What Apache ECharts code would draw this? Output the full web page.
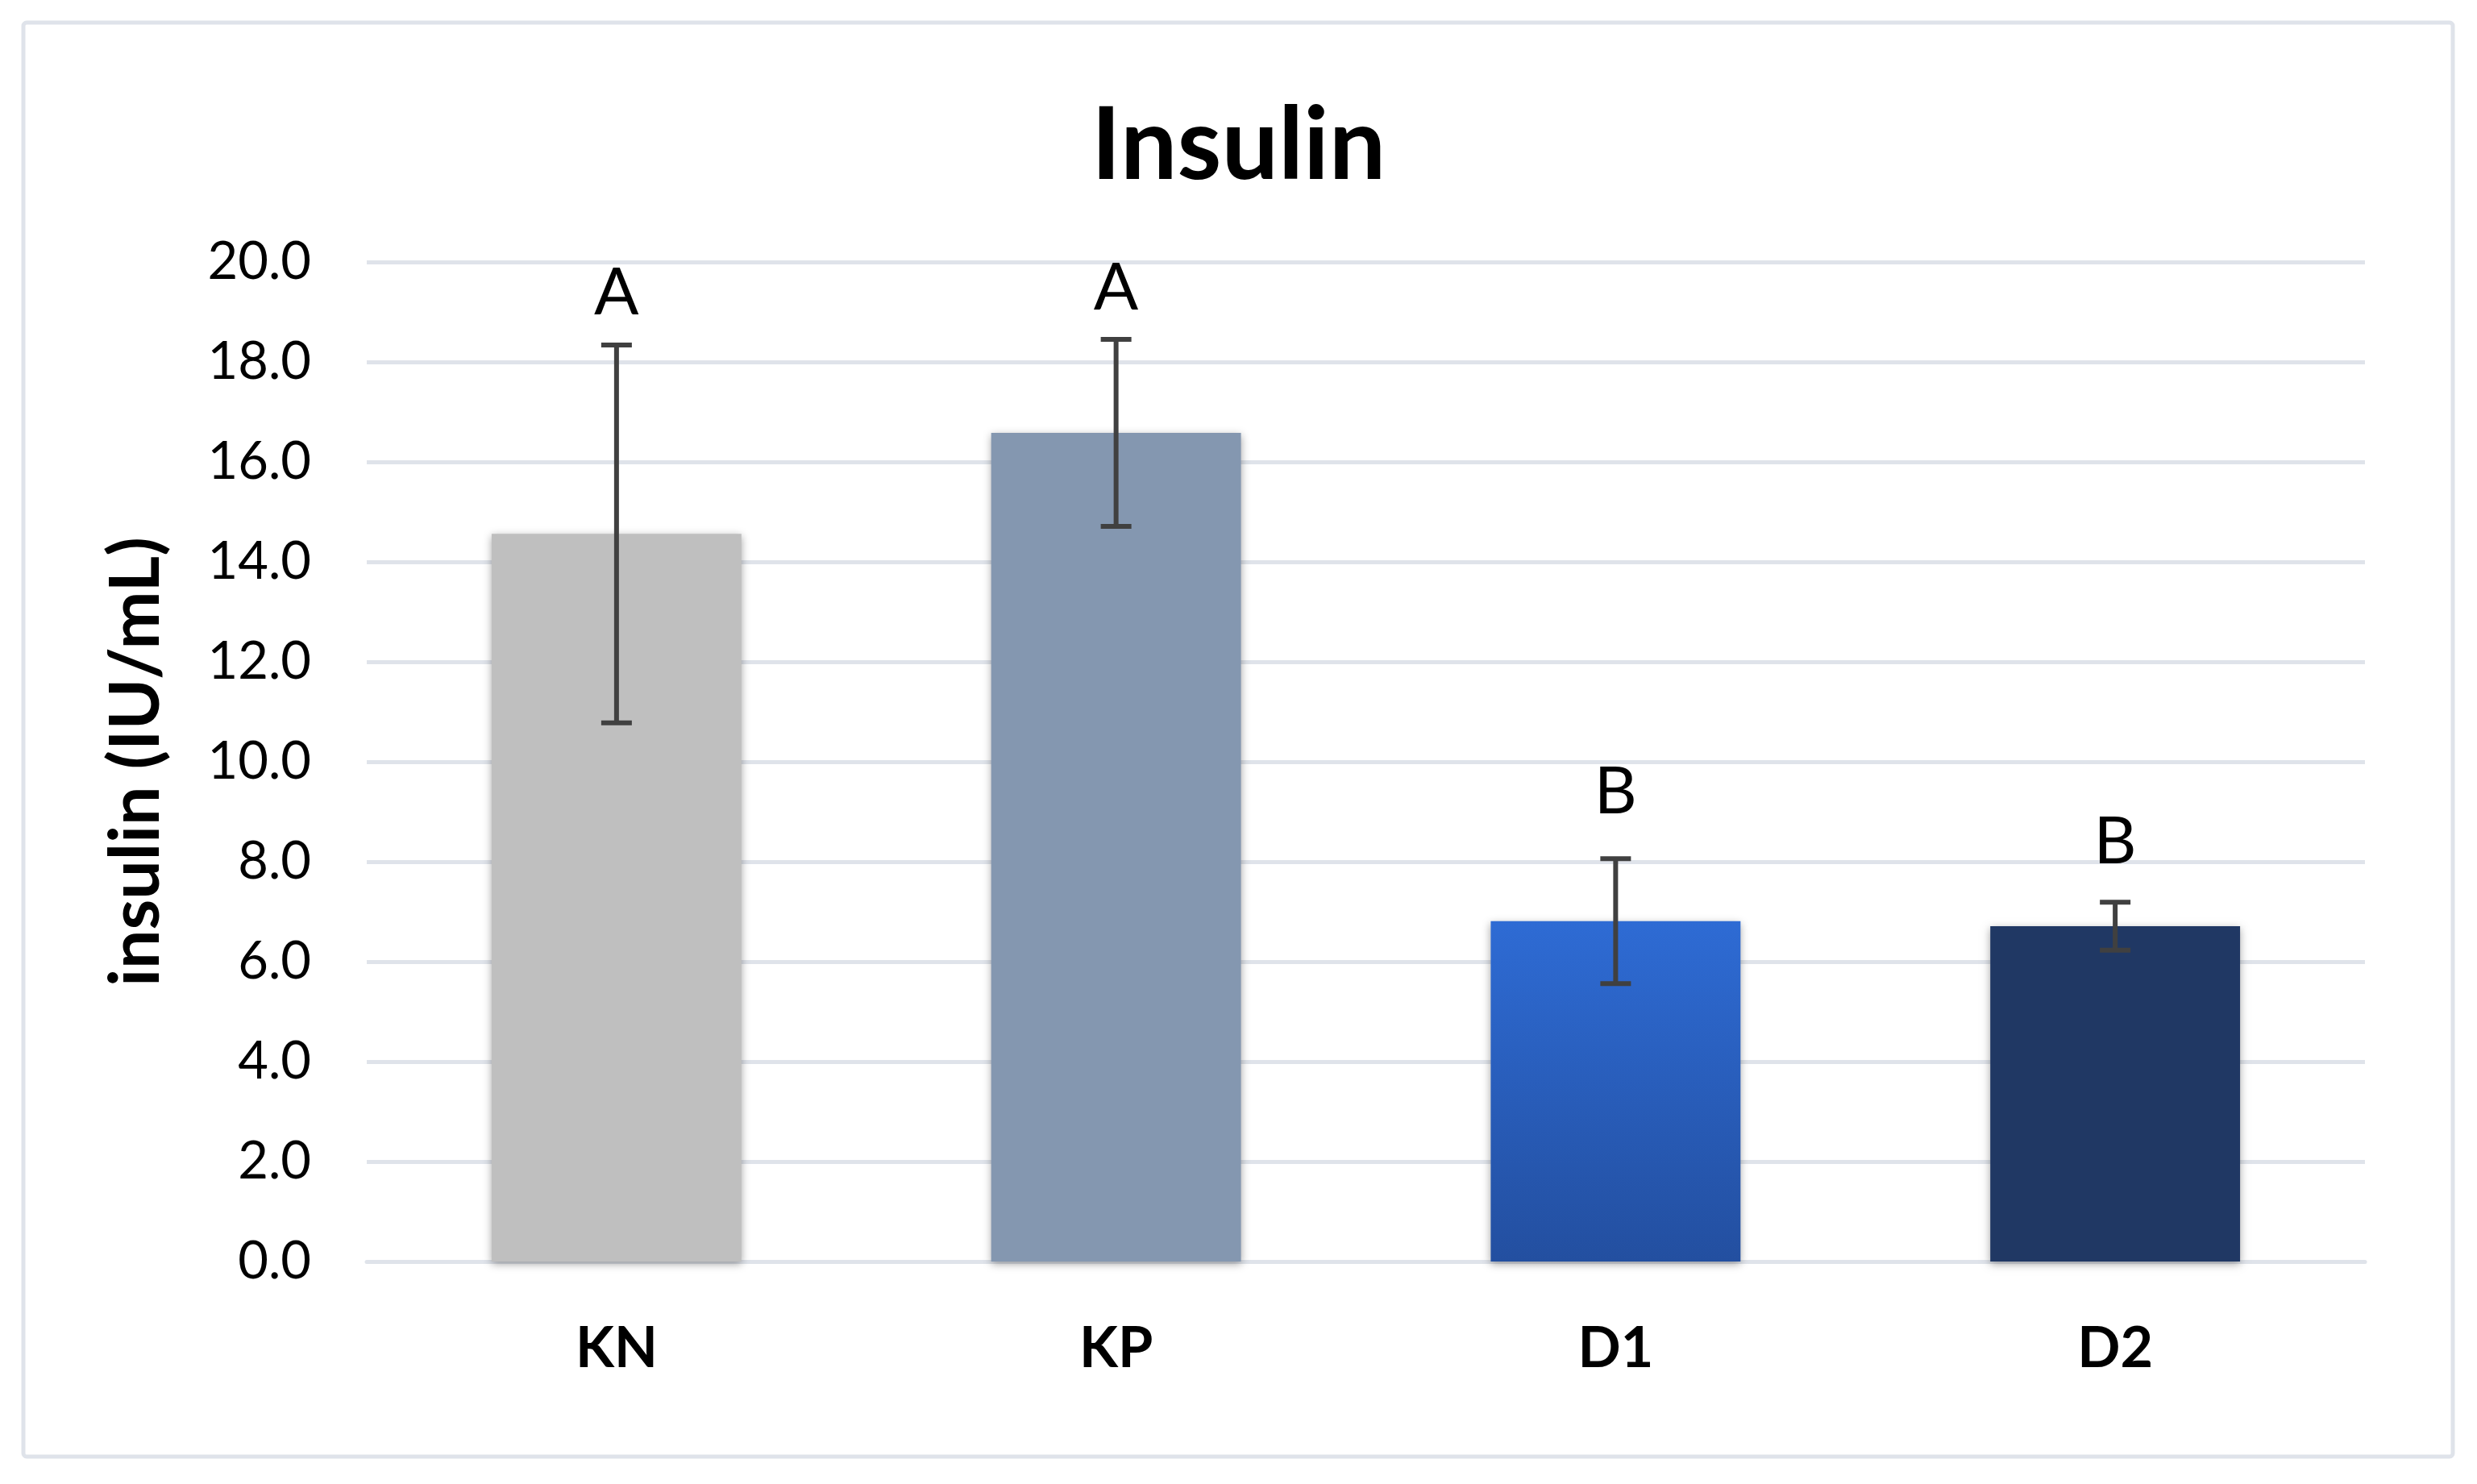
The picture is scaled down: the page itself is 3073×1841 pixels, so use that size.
<!DOCTYPE html>
<html>
<head>
<meta charset="utf-8">
<script src="https://cdn.jsdelivr.net/npm/echarts@6/dist/echarts.min.js"></script>
<style>
html,body{margin:0;padding:0;background:#fff;}
#chart{width:3073px;height:1841px;}
</style>
</head>
<body>
<div id="chart"></div>
<script>
// ---- data ----
var categories = ['KN', 'KP', 'D1', 'D2'];
var means = [14.56, 16.58, 6.81, 6.71];
var sd = [3.78, 1.87, 1.25, 0.48];
var letters = ['A', 'A', 'B', 'B'];
var letterY = [18.72, 18.82, 8.73, 7.73];
var yTicks = { min: 0, max: 20, interval: 2 };
var titleText = 'Insulin';
var yAxisName = 'insulin (IU/mL)';

var barColors = [
  '#BFBFBF',
  '#8497B0',
  { type: 'linear', x: 0, y: 0, x2: 0, y2: 1, colorStops: [{ offset: 0, color: '#2E6BD4' }, { offset: 1, color: '#234FA0' }] },
  '#203864'
];

var FONT = 'Lato';
var chart = echarts.init(document.getElementById('chart'), null, { renderer: 'canvas' });

var errData = categories.map(function (c, i) { return [i, means[i] - sd[i], means[i] + sd[i]]; });
var letterData = categories.map(function (c, i) { return [i, letterY[i], letters[i]]; });

var option = {
  backgroundColor: '#ffffff',
  animation: false,
  title: {
    text: titleText,
    left: 'center',
    top: 114,
    textStyle: { fontFamily: FONT, fontSize: 125, fontWeight: 'bold', color: '#000' }
  },
  graphic: [{
    type: 'rect',
    shape: { x: 29, y: 28, width: 3014, height: 1779, r: 4 },
    style: { fill: 'none', stroke: '#dfe3ea', lineWidth: 5 },
    silent: true
  }],
  grid: { left: 455, right: 139, top: 325, bottom: 276, containLabel: false },
  xAxis: {
    type: 'category',
    data: categories,
    axisLine: { show: true, lineStyle: { color: '#dfe3ea', width: 5 } },
    axisTick: { show: false },
    axisLabel: { fontFamily: FONT, fontSize: 70, fontWeight: 'bold', color: '#000', margin: 73 },
    splitLine: { show: false }
  },
  yAxis: {
    type: 'value',
    min: yTicks.min, max: yTicks.max, interval: yTicks.interval,
    name: yAxisName,
    nameLocation: 'middle',
    nameRotate: 90,
    nameGap: 243,
    nameTextStyle: { fontFamily: FONT, fontSize: 86, fontWeight: 'bold', color: '#000' },
    axisLine: { show: false },
    axisTick: { show: false },
    axisLabel: {
      fontFamily: FONT, fontSize: 65, color: '#000', margin: 69,
      formatter: function (v) { return v.toFixed(1); }
    },
    splitLine: { show: true, lineStyle: { color: '#dfe3ea', width: 5 } }
  },
  series: [
    {
      type: 'bar',
      data: means.map(function (v, i) {
        return { value: v, itemStyle: { color: barColors[i] } };
      }),
      barWidth: '50%',
      itemStyle: { shadowBlur: 10, shadowColor: 'rgba(0,0,0,0.35)', shadowOffsetY: 3 },
      z: 2
    },
    {
      type: 'custom',
      data: errData,
      z: 5,
      renderItem: function (params, api) {
        var x = api.value(0);
        var lo = api.coord([x, api.value(1)]);
        var hi = api.coord([x, api.value(2)]);
        var half = 19;
        var st = { stroke: '#404040', lineWidth: 6 };
        return {
          type: 'group',
          children: [
            { type: 'line', shape: { x1: lo[0], y1: lo[1], x2: hi[0], y2: hi[1] }, style: st },
            { type: 'line', shape: { x1: lo[0] - half, y1: lo[1], x2: lo[0] + half, y2: lo[1] }, style: st },
            { type: 'line', shape: { x1: hi[0] - half, y1: hi[1], x2: hi[0] + half, y2: hi[1] }, style: st }
          ]
        };
      }
    },
    {
      type: 'custom',
      data: letterData,
      z: 6,
      renderItem: function (params, api) {
        var p = api.coord([api.value(0), api.value(1)]);
        return {
          type: 'text',
          x: p[0], y: p[1],
          style: {
            text: letters[params.dataIndex],
            fontFamily: FONT, fontSize: 82, fill: '#000',
            textAlign: 'center', textVerticalAlign: 'bottom'
          }
        };
      }
    }
  ]
};
chart.setOption(option);
</script>
</body>
</html>
